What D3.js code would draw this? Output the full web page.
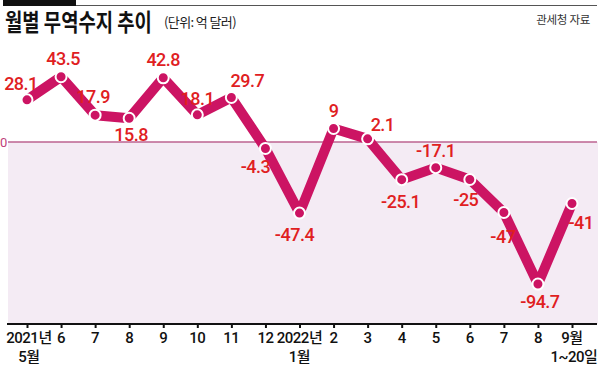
<!DOCTYPE html>
<html><head><meta charset="utf-8">
<script src="https://cdn.jsdelivr.net/npm/d3@7"></script>
<style>
html,body{margin:0;padding:0;background:#fff;}
svg{display:block;}
</style></head>
<body>
<script>
// ---- data ----
const months = ["2021-05","2021-06","2021-07","2021-08","2021-09","2021-10","2021-11","2021-12",
                "2022-01","2022-02","2022-03","2022-04","2022-05","2022-06","2022-07","2022-08","2022-09"];
const balance = [28.1, 43.5, 17.9, 15.8, 42.8, 18.1, 29.7, -4.3, -47.4, 9, 2.1, -25.1, -17.1, -25, -47, -94.7, -41];
const valueLabels = ["28.1","43.5","17.9","15.8","42.8","18.1","29.7","-4.3","-47.4","9","2.1","-25.1","-17.1","-25","-47","-94.7","-41"];
const tickLine1 = ["2021년","6","7","8","9","10","11","12","2022년","2","3","4","5","6","7","8","9월"];
const tickLine2 = ["5월","","","","","","","","1월","","","","","","","","1~20일"];
const title = "월별 무역수지 추이";
const unit = "(단위: 억 달러)";
const source = "관세청 자료";

// ---- layout ----
const W = 599, H = 367;
const svg = d3.select("body").append("svg").attr("width", W).attr("height", H);

const x = d3.scalePoint().domain(months).range([27, 572]);
const y = d3.scaleLinear().domain([-100, 50]).range([292, 67]); // 1.5px per unit, 0 at 142
const axisY = 324;

// header
svg.append("rect").attr("x", 3).attr("y", 0).attr("width", 73).attr("height", 6).attr("fill", "#111");
svg.append("line").attr("x1", 76).attr("x2", 597).attr("y1", 5.5).attr("y2", 5.5).attr("stroke", "#555").attr("stroke-width", 1);
const titleText = svg.append("text").attr("x", 0).attr("y", 0).text(title)
  .attr("font-family", "'Noto Sans CJK KR', 'Noto Sans', sans-serif").attr("font-weight", 700)
  .attr("font-size", 23.5).attr("fill", "#111");
const tw = titleText.node().getComputedTextLength();
const ts = Math.min(1, 147 / tw);
titleText.attr("transform", `translate(5,31) scale(${ts},1)`);
svg.append("text").attr("x", 164).attr("y", 27).text(unit)
  .attr("font-family", "'Noto Sans CJK KR', sans-serif").attr("font-size", 13)
  .attr("letter-spacing", -0.6).attr("fill", "#222");
svg.append("text").attr("x", 590).attr("y", 24).attr("text-anchor", "end").text(source)
  .attr("font-family", "'Noto Sans CJK KR', sans-serif").attr("font-size", 11.5)
  .attr("letter-spacing", -0.3).attr("fill", "#333");

// negative area
svg.append("rect").attr("x", 8).attr("y", y(0)).attr("width", 590).attr("height", axisY - y(0))
  .attr("fill", "#f4ebf4");
svg.append("line").attr("x1", 8).attr("x2", 597).attr("y1", y(0)).attr("y2", y(0))
  .attr("stroke", "#bd6390").attr("stroke-width", 1.5);
svg.append("text").attr("x", 0).attr("y", y(0) + 5).text("0")
  .attr("font-family", "Roboto, sans-serif").attr("font-size", 13).attr("fill", "#c0407a");

// x axis
const xAxis = d3.axisBottom(x).tickSize(4).tickFormat(() => "");
const ax = svg.append("g").attr("transform", `translate(0,${axisY})`).call(xAxis);
ax.select(".domain").attr("d", `M7,0H597`).attr("stroke", "#111").attr("stroke-width", 2);
ax.selectAll(".tick line").attr("stroke", "#111").attr("stroke-width", 2);

const tickX = (d, i) => (i === 0 ? x(d) + 2 : x(d));
const tl = svg.append("g").attr("font-family", "Roboto, 'Noto Sans CJK KR', sans-serif")
  .attr("font-size", 15).attr("font-weight", 500).attr("fill", "#111").attr("text-anchor", "middle")
  .attr("letter-spacing", -0.5);
tl.selectAll("text.l1").data(months).join("text").attr("class", "l1")
  .attr("x", (d, i) => tickX(d, i)).attr("y", 343).text((d, i) => tickLine1[i]);
tl.selectAll("text.l2").data(months).join("text").attr("class", "l2")
  .attr("x", (d, i) => tickX(d, i) + (i === 16 ? 2 : 0)).attr("y", 362).text((d, i) => tickLine2[i]);

// line
const line = d3.line().x((d, i) => x(months[i])).y(d => y(d));
svg.append("path").datum(balance).attr("d", line).attr("fill", "none")
  .attr("stroke", "#cc1463").attr("stroke-width", 10).attr("stroke-linejoin", "round");
svg.selectAll("circle.pt").data(balance).join("circle").attr("class", "pt")
  .attr("cx", (d, i) => x(months[i])).attr("cy", d => y(d)).attr("r", 5.5)
  .attr("fill", "#cc1463").attr("stroke", "#fff").attr("stroke-width", 2);

// value labels (placement offsets: dx, dy from point)
const placement = [[-6,-10],[2,-12],[-2,-12],[2,23],[0,-12],[0,-10],[16,-10],[-10,25],[-5,28],
                   [0,-12],[15,-8],[-1,28],[0,-11],[-4,26],[-1,30],[2,24],[9,25]];
svg.selectAll("text.val").data(balance).join("text").attr("class", "val")
  .attr("x", (d, i) => x(months[i]) + placement[i][0])
  .attr("y", (d, i) => y(d) + placement[i][1])
  .attr("text-anchor", "middle")
  .attr("font-family", "Roboto, sans-serif").attr("font-size", 18).attr("font-weight", 500)
  .attr("letter-spacing", -0.5)
  .attr("fill", "#e0201f")
  .text((d, i) => valueLabels[i]);
</script>
</body></html>
